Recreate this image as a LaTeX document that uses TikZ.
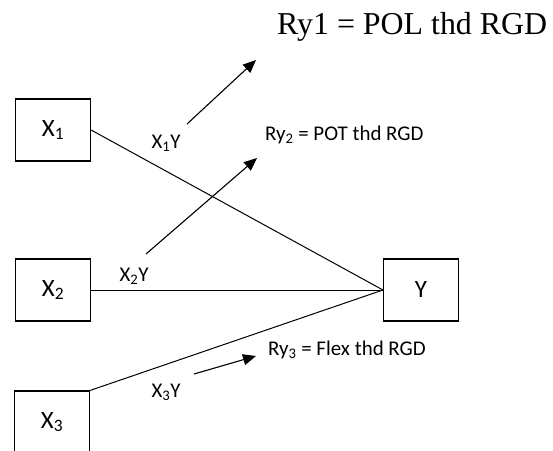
\documentclass[tikz,border=0pt]{standalone}
\usepackage{fontspec}
\setmainfont{Carlito}
\newfontfamily\timesfont{Liberation Serif}
\usetikzlibrary{arrows.meta,positioning}

\begin{document}
\begin{tikzpicture}[
  x=1bp, y=-1bp,
  >={Triangle[length=13bp,width=11bp]},
  var/.style={rectangle, draw, line width=1.1bp, minimum width=75bp, minimum height=62bp, inner sep=0pt, font=\fontsize{25}{30}\selectfont},
  pathlabel/.style={font=\fontsize{21}{25}\selectfont, inner sep=0pt},
  link/.style={line width=1bp},
  arrow/.style={->, line width=1.1bp}
]
\useasboundingbox (0,0) rectangle (553,451);
\clip (0,0) rectangle (553,451);
% variables
\node[var] (x1) at (53,130) {X\textsubscript{1}};
\node[var] (x2) at (53,290) {X\textsubscript{2}};
\node[var] (x3) at (52,422) {X\textsubscript{3}};
\node[var] (y) at (421,290) {Y};
\draw[link] (x1.east) -- (y.west);
\draw[link] (x2.east) -- (y.west);
\draw[link] (x3.north east) -- (y.west);
% path labels
\node[pathlabel] (lx1y) at (166,143) {X\textsubscript{1}Y};
\node[pathlabel] (lx2y) at (134,276) {X\textsubscript{2}Y};
\node[pathlabel] (lx3y) at (166,392) {X\textsubscript{3}Y};
% results
\node[font=\timesfont\fontsize{32}{38}\selectfont, anchor=base west, inner sep=0pt] (ry1) at (277,35) {Ry1 = POL thd RGD};
\node[pathlabel, anchor=west] (ry2) at (265,135) {Ry\textsubscript{2} = POT thd RGD};
\node[pathlabel, anchor=west] (ry3) at (268,350) {Ry\textsubscript{3} = Flex thd RGD};
\coordinate (a1s) at (187,124);
\coordinate (a1e) at (256,60);
\coordinate (a2s) at (146,254);
\coordinate (a2e) at (257,158);
\coordinate (a3s) at (194,374);
\coordinate (a3e) at (256,356);
\draw[arrow] (a1s) -- (a1e);
\draw[arrow] (a2s) -- (a2e);
\draw[arrow] (a3s) -- (a3e);
\end{tikzpicture}
\end{document}
